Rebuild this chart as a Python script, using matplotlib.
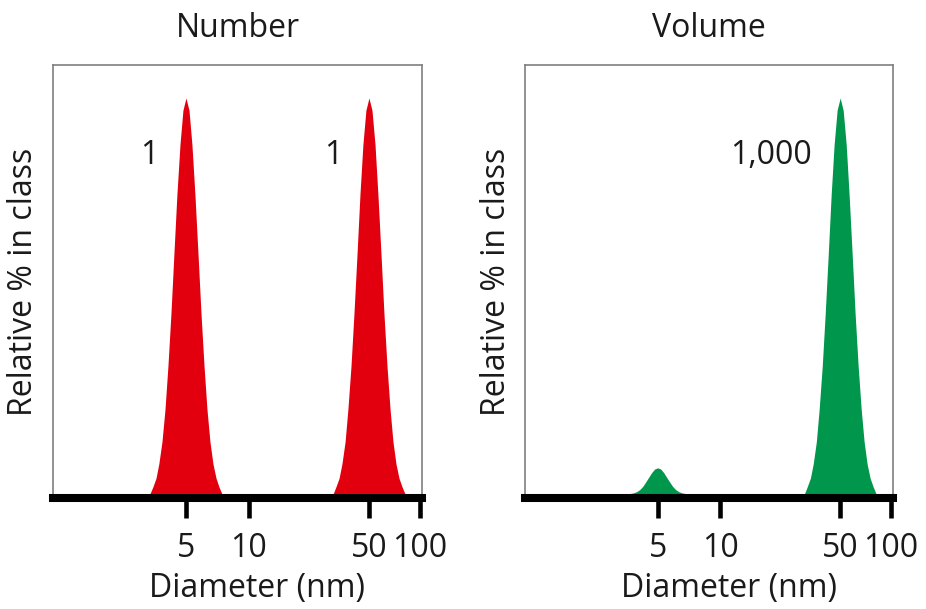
"""Number vs volume weighting of a two-population size distribution (DLS style)."""

import numpy as np
import matplotlib

matplotlib.use("Agg")
import matplotlib.pyplot as plt

plt.rcParams["font.family"] = ["Open Sans", "DejaVu Sans"]

# diameters (nm) sampled across the two peaks
diam_5 = [3.23, 3.35, 3.48, 3.60, 3.74, 3.88, 4.02, 4.17, 4.32, 4.48, 4.65, 4.82, 5.0,
          5.17, 5.34, 5.52, 5.71, 5.90, 6.10, 6.30, 6.51, 6.73, 6.96, 7.19, 7.43]
diam_50 = [30.9, 32.1, 33.5, 34.8, 36.3, 37.7, 39.3, 40.9, 42.6, 44.3, 46.1, 48.0, 50.0,
           52.1, 54.3, 56.5, 58.9, 61.3, 63.9, 66.6, 69.3, 72.2, 75.2, 78.4, 81.7]

# relative % in class (tallest peak = 1)
number_5 = [0.0, 0.018, 0.040, 0.076, 0.132, 0.214, 0.323, 0.456, 0.605, 0.755, 0.882, 0.969, 1.0,
            0.969, 0.882, 0.755, 0.605, 0.456, 0.323, 0.214, 0.132, 0.076, 0.040, 0.018, 0.0]
number_50 = [0.0, 0.018, 0.040, 0.076, 0.132, 0.214, 0.323, 0.456, 0.605, 0.755, 0.882, 0.969, 1.0,
             0.969, 0.882, 0.755, 0.605, 0.456, 0.323, 0.214, 0.132, 0.076, 0.040, 0.018, 0.0]
volume_5 = [0.0, 0.0, 0.0005, 0.0015, 0.003, 0.006, 0.011, 0.019, 0.030, 0.042, 0.054, 0.063, 0.066,
            0.063, 0.054, 0.042, 0.030, 0.019, 0.011, 0.006, 0.003, 0.0015, 0.0005, 0.0, 0.0]
volume_50 = [0.0, 0.018, 0.040, 0.076, 0.132, 0.214, 0.323, 0.456, 0.605, 0.755, 0.882, 0.969, 1.0,
             0.969, 0.882, 0.755, 0.605, 0.456, 0.323, 0.214, 0.132, 0.076, 0.040, 0.018, 0.0]

tick_values = [5, 10, 50, 100]
tick_labels = ["5", "10", "50", "100"]

RED = "#e2000f"
GREEN = "#00964b"
TEXT = "#1a1a1a"
FS = 23

# the original axis is a hand-drawn log axis: spacing between ticks is not uniform,
# so map log10(d) piecewise onto the drawn positions
LOG_ANCHORS = [-1, 0, np.log10(5), 1, np.log10(50), 2, 3]
PX_ANCHORS = [-190, 0, 133, 196, 316, 367, 536]


def forward(d):
    return np.interp(np.log10(np.clip(d, 1e-9, None)), LOG_ANCHORS, PX_ANCHORS)


def inverse(p):
    return 10 ** np.interp(p, PX_ANCHORS, LOG_ANCHORS)


fig = plt.figure(figsize=(9.26, 6.09), dpi=100)
ax_n = fig.add_axes([0.0572, 0.1823, 0.3985, 0.711])
ax_v = fig.add_axes([0.567, 0.1823, 0.3974, 0.711])


def style(ax, title):
    ax.set_xscale("function", functions=(forward, inverse))
    ax.set_xlim(1, 102.8)
    ax.set_ylim(-0.0101, 1.0833)
    ax.set_xticks(tick_values, labels=tick_labels)
    ax.xaxis.set_minor_locator(matplotlib.ticker.NullLocator())
    ax.set_yticks([])
    for side in ("top", "left", "right"):
        ax.spines[side].set_color("#7f7f7f")
        ax.spines[side].set_linewidth(1.2)
    ax.spines["bottom"].set_color("black")
    ax.spines["bottom"].set_linewidth(5.8)
    ax.spines["bottom"].set_zorder(5)
    ax.tick_params(axis="x", direction="out", length=14.5, width=3.3, color="black",
                   pad=10, labelsize=FS, labelcolor=TEXT)
    ax.set_xlabel("Diameter (nm)", fontsize=FS, color=TEXT)
    ax.xaxis.set_label_coords(0.553, -0.172)
    ax.set_ylabel("Relative % in class", fontsize=FS, color=TEXT, labelpad=9)
    ax.set_title(title, fontsize=FS, color=TEXT, pad=20)


ax_n.fill_between(diam_5, number_5, color=RED, linewidth=0)
ax_n.fill_between(diam_50, number_50, color=RED, linewidth=0)
ax_n.text(3.2, 0.855, "1", fontsize=FS, color=TEXT, ha="center", va="center")
ax_n.text(30.8, 0.855, "1", fontsize=FS, color=TEXT, ha="center", va="center")
style(ax_n, "Number")

ax_v.fill_between(diam_5, volume_5, color=GREEN, linewidth=0)
ax_v.fill_between(diam_50, volume_50, color=GREEN, linewidth=0)
ax_v.text(19.8, 0.855, "1,000", fontsize=FS, color=TEXT, ha="center", va="center")
style(ax_v, "Volume")

fig.savefig("out.png", dpi=100)
plt.close(fig)
